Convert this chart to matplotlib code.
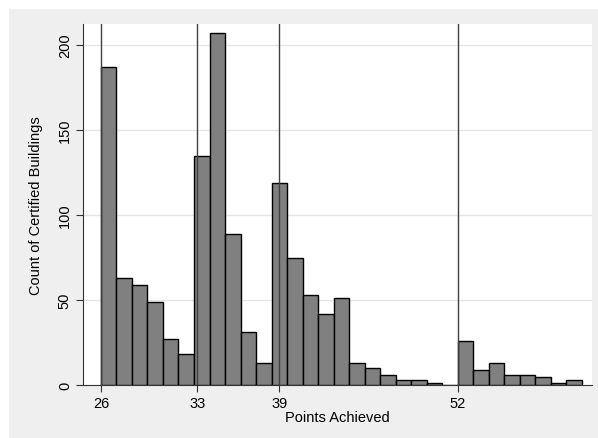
import numpy as np
import matplotlib as mpl
mpl.use('Agg')
import matplotlib.pyplot as plt
from matplotlib.patches import Rectangle

plt.rcParams['font.family'] = ['Liberation Sans', 'DejaVu Sans']

# Histogram data (31 bins from 26 to 61)
bin_lo, bin_hi, n_bins = 26., 61., 31
counts = [187, 63, 59, 49, 27, 18, 135, 207, 89, 31, 13,
          119, 75, 53, 42, 51, 13, 10, 6, 3, 3, 1, 0,
          26, 9, 13, 6, 6, 5, 1, 3]
cert_levels = [26, 33, 39, 52]
yticks = [0, 50, 100, 150, 200]

edges = np.linspace(bin_lo, bin_hi, n_bins + 1)

fig = plt.figure(figsize=(5.98, 4.39), dpi=100)
fig.patch.set_facecolor('white')
fig.patches.append(Rectangle((9/598., 0.), 1. - 9/598., (439-10)/439., transform=fig.transFigure,
                             facecolor='#efefef', edgecolor='none', zorder=-10))

ax = fig.add_axes([83/598., (439-386)/439., (592-83)/598., (386-25)/439.])
ax.set_facecolor('white')

ax.bar(edges[:-1], counts, width=np.diff(edges), align='edge',
       color='#808080', edgecolor='black', linewidth=1.0, zorder=3)

for lv in cert_levels:
    ax.axvline(lv, color='#404040', linewidth=1.0, zorder=4)

ax.set_xlim(24.69, 61.76)
ax.set_ylim(0, 212.4)
ax.set_xticks(cert_levels)
ax.set_yticks(yticks)
ax.set_yticklabels([str(t) for t in yticks], rotation=90, va='center')
ax.grid(axis='y', color='#e6e6e6', linewidth=1.0, zorder=0)
ax.set_axisbelow(True)

for side in ['top', 'right']:
    ax.spines[side].set_visible(False)
for side in ['left', 'bottom']:
    ax.spines[side].set_linewidth(0.8)
    ax.spines[side].set_color('#333333')
ax.tick_params(axis='both', which='major', direction='out', length=5, width=0.8,
               color='#333333', labelsize=10.5, pad=3)

ax.set_xlabel('Points Achieved', fontsize=10.5, labelpad=0)
ax.set_ylabel('Count of Certified Buildings', fontsize=10.5, labelpad=11)

fig.savefig('out.png', dpi=100, facecolor=fig.get_facecolor())
